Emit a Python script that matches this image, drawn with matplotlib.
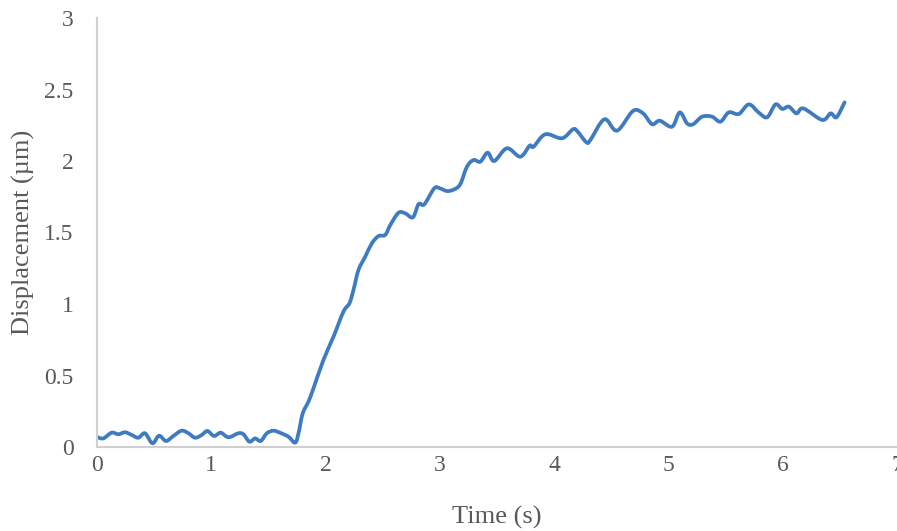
import matplotlib
matplotlib.use("Agg")
import matplotlib.pyplot as plt
from matplotlib.path import Path
from matplotlib.patches import PathPatch

time_s = [0.0, 0.055, 0.128, 0.187, 0.245, 0.304, 0.362, 0.42, 0.485, 0.543, 0.604, 0.668,
          0.74, 0.80, 0.858, 0.916, 0.966, 1.024, 1.083, 1.15, 1.237, 1.281, 1.334, 1.383,
          1.433, 1.486, 1.544, 1.60, 1.675, 1.734, 1.763, 1.80, 1.85, 1.894, 1.981, 2.069,
          2.156, 2.209, 2.244, 2.288, 2.347, 2.405, 2.463, 2.522, 2.566, 2.638, 2.697, 2.764,
          2.814, 2.864, 2.951, 3.00, 3.062, 3.12, 3.178, 3.237, 3.295, 3.354, 3.418, 3.476,
          3.587, 3.704, 3.785, 3.82, 3.923, 4.069, 4.165, 4.206, 4.282, 4.317, 4.44, 4.55,
          4.69, 4.778, 4.857, 4.924, 5.032, 5.099, 5.163, 5.216, 5.295, 5.382, 5.455, 5.528,
          5.616, 5.704, 5.791, 5.864, 5.937, 5.996, 6.054, 6.121, 6.18, 6.346, 6.419, 6.471,
          6.541]
displacement_um = [0.07, 0.06, 0.10, 0.089, 0.103, 0.084, 0.065, 0.096, 0.026, 0.079, 0.042, 0.077,
                   0.114, 0.096, 0.065, 0.084, 0.112, 0.077, 0.10, 0.068, 0.096, 0.089, 0.037, 0.06,
                   0.042, 0.096, 0.114, 0.10, 0.072, 0.03, 0.096, 0.235, 0.317, 0.41, 0.608, 0.771,
                   0.946, 1.005, 1.098, 1.238, 1.331, 1.424, 1.475, 1.483, 1.552, 1.638, 1.634, 1.606,
                   1.699, 1.697, 1.809, 1.809, 1.79, 1.80, 1.837, 1.96, 2.007, 1.995, 2.058, 2.0,
                   2.089, 2.03, 2.107, 2.10, 2.187, 2.159, 2.222, 2.205, 2.131, 2.147, 2.292, 2.212,
                   2.35, 2.333, 2.257, 2.282, 2.24, 2.34, 2.263, 2.257, 2.31, 2.31, 2.275, 2.34,
                   2.329, 2.396, 2.338, 2.306, 2.396, 2.364, 2.38, 2.333, 2.368, 2.287, 2.333, 2.306,
                   2.41]

x_ticks = [0, 1, 2, 3, 4, 5, 6, 7]
y_ticks = [0, 0.5, 1, 1.5, 2, 2.5, 3]
y_tick_labels = ["0", "0.5", "1", "1.5", "2", "2.5", "3"]

plt.rcParams['font.family'] = ['Liberation Serif', 'DejaVu Serif']

fig = plt.figure(figsize=(8.97, 5.31), dpi=100)
ax = fig.add_axes([97/897, 84/531, 800/897, 429/531])

# Smoothed line (like a spreadsheet "smoothed line") through the data points,
# built as a Catmull-Rom style Bezier path in data coordinates.
n = len(time_s)
verts = [(time_s[0], displacement_um[0])]
codes = [Path.MOVETO]
k = 1.0 / 6.0
for i in range(n - 1):
    x0, y0 = time_s[max(i - 1, 0)], displacement_um[max(i - 1, 0)]
    x1, y1 = time_s[i], displacement_um[i]
    x2, y2 = time_s[i + 1], displacement_um[i + 1]
    x3, y3 = time_s[min(i + 2, n - 1)], displacement_um[min(i + 2, n - 1)]
    c1 = (x1 + (x2 - x0) * k, y1 + (y2 - y0) * k)
    c2 = (x2 - (x3 - x1) * k, y2 - (y3 - y1) * k)
    verts += [c1, c2, (x2, y2)]
    codes += [Path.CURVE4, Path.CURVE4, Path.CURVE4]
patch = PathPatch(Path(verts, codes), facecolor='none', edgecolor='#3F7BC1',
                  linewidth=2.7, joinstyle='round', capstyle='round')
ax.add_patch(patch)

ax.set_xlim(0, 7)
ax.set_ylim(0, 3)
ax.set_xticks(x_ticks)
ax.set_xticklabels([str(v) for v in x_ticks])
ax.set_yticks(y_ticks)
ax.set_yticklabels(y_tick_labels)

for s in ['top', 'right']:
    ax.spines[s].set_visible(False)
for s in ['left', 'bottom']:
    ax.spines[s].set_color('#D0D0D0')
    ax.spines[s].set_linewidth(1.5)

ax.tick_params(axis='both', length=0, labelsize=17, colors='#595959')
ax.tick_params(axis='x', pad=6)
ax.tick_params(axis='y', pad=17)

ax.set_xlabel('Time (s)', fontsize=19, color='#595959', va='center')
ax.xaxis.set_label_coords(0.5, -(517 - 447) / 429)
ax.set_ylabel('Displacement (µm)', fontsize=19, color='#595959', va='center')
ax.yaxis.set_label_coords(-(97 - 23) / 800, 0.5)

fig.savefig('out.png', dpi=100)
